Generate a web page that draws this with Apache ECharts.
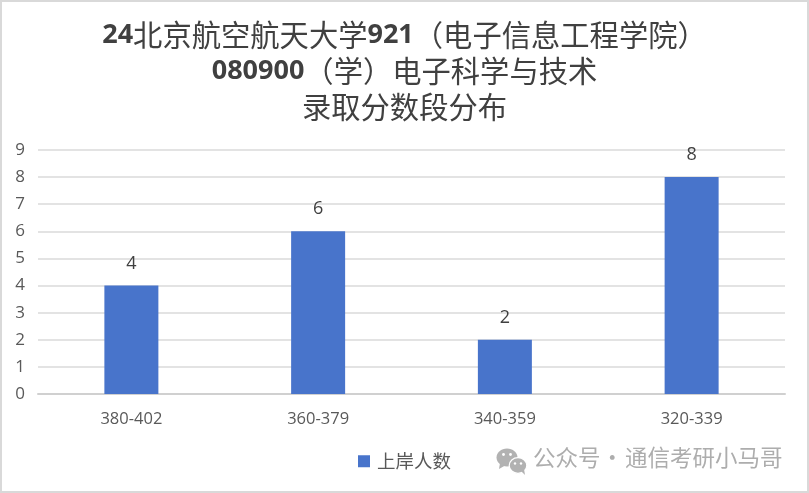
<!DOCTYPE html>
<html><head><meta charset="utf-8">
<style>html,body{margin:0;padding:0;background:#fff}#c{width:809px;height:493px}</style>
<script src="https://cdn.jsdelivr.net/npm/echarts@6/dist/echarts.min.js"></script>
</head><body><div id="c"></div>
<script>
const categories=['380-402','360-379','340-359','320-339'];
const values=[4,6,2,8];
const seriesName='上岸人数';
const watermarkLeft='公众号';
const watermarkDot='·';
const watermarkRight='通信考研小马哥';
const font='"Noto Sans CJK SC","Open Sans",sans-serif';
const latin='"Open Sans",sans-serif';
const chart=echarts.init(document.getElementById('c'));
chart.setOption({
 animation:false,
 backgroundColor:'#fff',
 title:{text:'{b|24}{n|北京航空航天大学}{b|921}{n|（电子信息工程学院）}\n{b|080900}{n|（学）电子科学与技术}\n{n|录取分数段分布}',
  left:'center',top:12,
  textStyle:{rich:{
   b:{fontFamily:latin,fontSize:27,fontWeight:'bold',color:'#404040',lineHeight:36},
   n:{fontFamily:font,fontSize:29.3,fontWeight:'normal',color:'#404040',lineHeight:36}}}},
 legend:{top:447,left:353,itemWidth:12,itemHeight:12,icon:'rect',
  textStyle:{fontFamily:font,fontSize:18.5,color:'#595959',padding:[0,0,0,2]}},
 grid:{left:38,right:24,top:150,bottom:99},
 xAxis:{type:'category',data:categories,
  axisLine:{lineStyle:{color:'#d0d0d0',width:2}},axisTick:{show:false},
  axisLabel:{fontFamily:latin,fontSize:16.5,color:'#595959',margin:17}},
 yAxis:{type:'value',min:0,max:9,interval:1,
  axisLine:{show:false},axisTick:{show:false},
  splitLine:{lineStyle:{color:'#e3e3e3',width:2}},
  axisLabel:{fontFamily:latin,fontSize:17,color:'#595959',margin:13}},
 series:[{name:seriesName,type:'bar',data:values,barWidth:54,
  itemStyle:{color:'#4874cb'},
  label:{show:true,position:'top',distance:13,fontFamily:latin,fontSize:18,color:'#404040'}}],
 graphic:[
  {type:'rect',z:100,shape:{x:0,y:0,width:809,height:493},style:{fill:'none',stroke:'#d9d9d9',lineWidth:4}},
  {type:'ellipse',shape:{cx:507,cy:457.5,rx:10.5,ry:9},style:{fill:'#b2b2b2'}},
  {type:'polygon',shape:{points:[[500,463],[499,469],[506,465]]},style:{fill:'#b2b2b2'}},
  {type:'circle',shape:{cx:503.5,cy:454.5,r:1.4},style:{fill:'#fff'}},
  {type:'circle',shape:{cx:510.5,cy:454.5,r:1.4},style:{fill:'#fff'}},
  {type:'ellipse',shape:{cx:518,cy:465.5,rx:8.8,ry:7.8},style:{fill:'#b2b2b2',stroke:'#fff',lineWidth:1.2}},
  {type:'polygon',shape:{points:[[521,471],[525,475],[524,469]]},style:{fill:'#b2b2b2'}},
  {type:'circle',shape:{cx:515,cy:463.5,r:1.2},style:{fill:'#fff'}},
  {type:'circle',shape:{cx:521,cy:463.5,r:1.2},style:{fill:'#fff'}},
  {type:'text',left:533,top:446,style:{text:watermarkLeft,fontFamily:font,fontSize:22.5,fill:'#adadad'}},
  {type:'text',left:601,top:446,style:{text:watermarkDot,fontFamily:font,fontSize:22.5,fill:'#adadad'}},
  {type:'text',left:625,top:446,style:{text:watermarkRight,fontFamily:font,fontSize:22.5,fill:'#adadad'}}
 ]
});
</script></body></html>
